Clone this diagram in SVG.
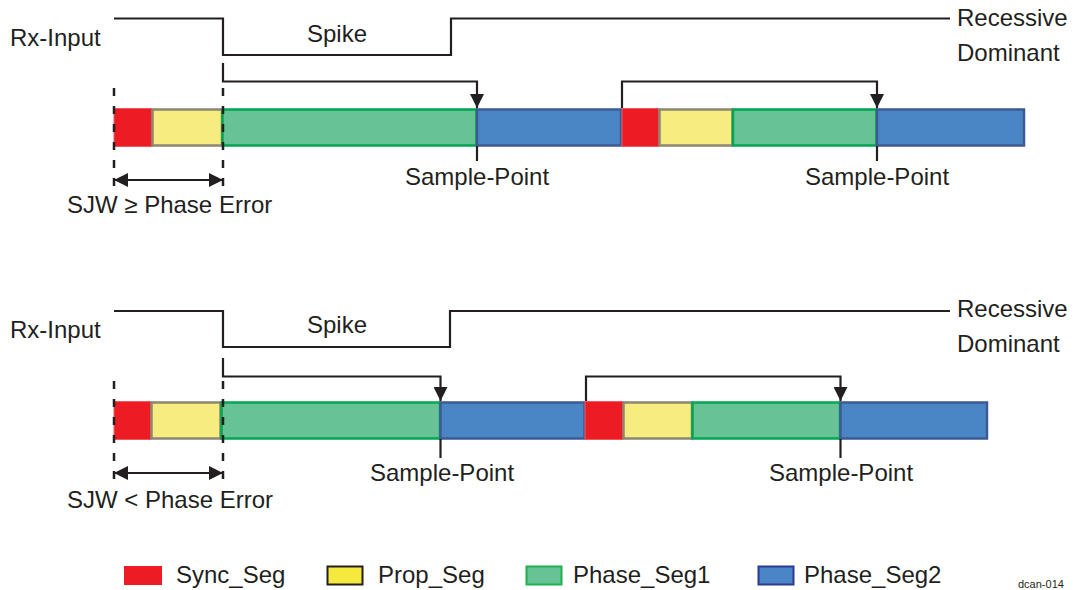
<svg xmlns="http://www.w3.org/2000/svg" width="1078" height="590" viewBox="0 0 1078 590">
<style>
text{font-family:"Liberation Sans",Arial,sans-serif;font-size:24px;fill:#231f20}
.ln{fill:none;stroke:#231f20;stroke-width:2.2}
.dash{fill:none;stroke:#231f20;stroke-width:2.5;stroke-dasharray:8 10}
.sy{fill:#ed1c24;stroke:#f05a5e;stroke-width:1}
.pr{fill:#f7ec80;stroke:#8c8672;stroke-width:2.5}
.p1{fill:#67c396;stroke:#00a651;stroke-width:2.5}
.p2{fill:#4a86c5;stroke:#3d5a94;stroke-width:2.5}
</style>
<defs>
<marker id="ah" viewBox="0 0 14 14" refX="14" refY="7" markerWidth="14" markerHeight="14" markerUnits="userSpaceOnUse" orient="auto-start-reverse">
<path d="M0,0 L14,7 L0,14 Z" fill="#231f20"/>
</marker>
</defs>

<g id="top">
<g id="top-bar">
<rect class="sy" x="114" y="108.5" width="38" height="38"/>
<rect class="pr" x="152.5" y="109.5" width="69.5" height="36"/>
<rect class="p1" x="222.5" y="109.5" width="254" height="36"/>
<rect class="p2" x="477" y="109.5" width="144" height="36"/>
<rect class="sy" x="622" y="108.5" width="37" height="38"/>
<rect class="pr" x="659.5" y="109.5" width="73" height="36"/>
<rect class="p1" x="733" y="109.5" width="143.5" height="36"/>
<rect class="p2" x="877" y="109.5" width="147" height="36"/>
</g>
<g id="top-connectors">
<path class="ln" d="M114,18.5 H223 V55 H451 V18.5 H950"/>
<path class="ln" d="M223,63 V81.5 H477 V108" marker-end="url(#ah)"/>
<path class="ln" d="M622,108 V81.5 H877 V108" marker-end="url(#ah)"/>
<path class="dash" d="M114,88 V188"/>
<path class="dash" d="M223,88 V188"/>
<path class="ln" d="M477,146 V161"/>
<path class="ln" d="M877,146 V161"/>
<path class="ln" d="M114,180 H223" marker-start="url(#ah)" marker-end="url(#ah)"/>
</g>
<text x="10" y="46">Rx-Input</text>
<text x="307" y="42">Spike</text>
<text x="957" y="26">Recessive</text>
<text x="957" y="61">Dominant</text>
<text x="405" y="185">Sample-Point</text>
<text x="805" y="185">Sample-Point</text>
<text x="67" y="213">SJW ≥ Phase Error</text>
</g>

<g id="bottom">
<g id="bottom-bar">
<rect class="sy" x="114" y="401.5" width="37" height="38"/>
<rect class="pr" x="151.5" y="402.5" width="69" height="36"/>
<rect class="p1" x="221.5" y="402.5" width="218.5" height="36"/>
<rect class="p2" x="440.5" y="402.5" width="144" height="36"/>
<rect class="sy" x="585" y="401.5" width="38" height="38"/>
<rect class="pr" x="623.5" y="402.5" width="68.5" height="36"/>
<rect class="p1" x="692.5" y="402.5" width="147.5" height="36"/>
<rect class="p2" x="840.5" y="402.5" width="146.5" height="36"/>
</g>
<g id="bottom-connectors">
<path class="ln" d="M114,311 H223 V347 H450 V311 H950"/>
<path class="ln" d="M223,358 V376.5 H440.5 V401" marker-end="url(#ah)"/>
<path class="ln" d="M586,401 V376.5 H840.5 V401" marker-end="url(#ah)"/>
<path class="dash" d="M114,381 V481"/>
<path class="dash" d="M223,381 V481"/>
<path class="ln" d="M440.5,439 V458"/>
<path class="ln" d="M840.5,439 V458"/>
<path class="ln" d="M114,473 H223" marker-start="url(#ah)" marker-end="url(#ah)"/>
</g>
<text x="10" y="338">Rx-Input</text>
<text x="307" y="333">Spike</text>
<text x="957" y="317">Recessive</text>
<text x="957" y="352">Dominant</text>
<text x="370" y="481">Sample-Point</text>
<text x="769" y="481">Sample-Point</text>
<text x="67" y="508">SJW &lt; Phase Error</text>
</g>

<g id="legend">
<g id="leg-sync"><rect x="124" y="566" width="38" height="19" fill="#ed1c24"/><text x="176" y="583">Sync_Seg</text></g>
<g id="leg-prop"><rect x="327.5" y="566.5" width="35" height="18" fill="#f6e93e" stroke="#231f20" stroke-width="2"/><text x="378" y="583">Prop_Seg</text></g>
<g id="leg-ph1"><rect x="526.5" y="566.5" width="35" height="18" fill="#67c396" stroke="#1db04f" stroke-width="2"/><text x="573" y="583">Phase_Seg1</text></g>
<g id="leg-ph2"><rect x="758.5" y="566.5" width="35" height="18" fill="#4a86c5" stroke="#2b3990" stroke-width="2"/><text x="804" y="583">Phase_Seg2</text></g>
</g>
<text x="1018" y="588" style="font-size:11px">dcan-014</text>
</svg>
